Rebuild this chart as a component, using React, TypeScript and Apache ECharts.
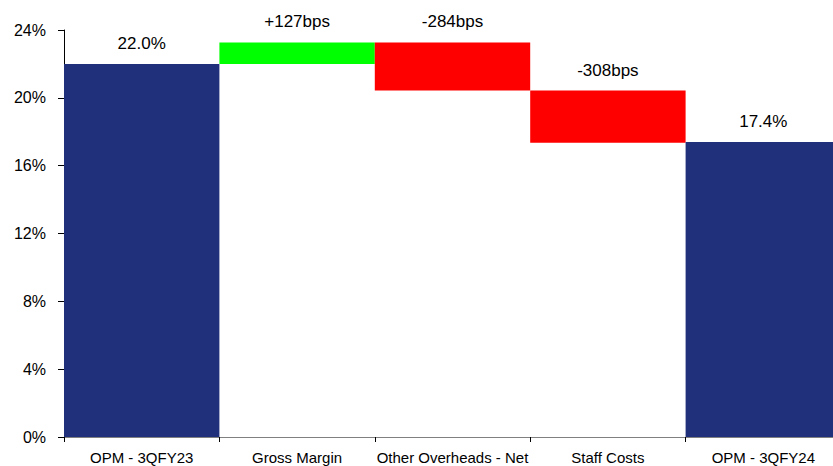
import React, { useEffect, useRef } from "react";
import * as echarts from "echarts";

const categories = ["OPM - 3QFY23", "Gross Margin", "Other Overheads - Net", "Staff Costs", "OPM - 3QFY24"];
const startValue = 22.0;
const changesBps = [127, -284, -308];
const endValue = 17.4;
const yTicks = [0, 4, 8, 12, 16, 20, 24];

const NAVY = "#21307A";
const GREEN = "#00FF00";
const RED = "#FF0000";
const FONT = "'Liberation Sans', Arial, sans-serif";

export default function App() {
  const ref = useRef<HTMLDivElement>(null);
  useEffect(() => {
    if (!ref.current) return;
    const chart = echarts.init(ref.current, undefined, { renderer: "svg" });

    const base: number[] = [0];
    const vis: any[] = [];
    vis.push({ value: startValue, itemStyle: { color: NAVY }, label: { formatter: startValue.toFixed(1) + "%" } });
    let running = startValue;
    changesBps.forEach((bps) => {
      const d = bps / 100;
      const lo = Math.min(running, running + d);
      base.push(lo);
      vis.push({
        value: Math.abs(d),
        itemStyle: { color: d >= 0 ? GREEN : RED },
        label: { formatter: (bps >= 0 ? "+" : "") + bps + "bps" },
      });
      running += d;
    });
    base.push(0);
    vis.push({ value: endValue, itemStyle: { color: NAVY }, label: { formatter: endValue.toFixed(1) + "%" } });

    chart.setOption({
      animation: false,
      grid: { left: 64, top: 30, bottom: 29, width: 777, containLabel: false, outerBoundsMode: "none" },
      xAxis: {
        type: "category",
        data: categories,
        axisLine: { show: true, lineStyle: { color: "#808080", width: 1 } },
        axisTick: { show: true, length: 5, lineStyle: { color: "#000" } },
        axisLabel: { color: "#000", fontFamily: FONT, fontSize: 15, margin: 13, interval: 0 },
        splitLine: { show: false },
      },
      yAxis: {
        type: "value",
        min: yTicks[0],
        max: yTicks[yTicks.length - 1],
        interval: 4,
        axisLine: { show: true, lineStyle: { color: "#000", width: 1 } },
        axisTick: { show: true, length: 6, lineStyle: { color: "#000" } },
        axisLabel: { color: "#000", fontFamily: FONT, fontSize: 16, margin: 18, formatter: "{value}%" },
        splitLine: { show: false },
      },
      series: [
        {
          type: "bar",
          stack: "w",
          data: base,
          itemStyle: { color: "transparent" },
          barCategoryGap: "0%",
          silent: true,
        },
        {
          type: "bar",
          stack: "w",
          data: vis,
          barCategoryGap: "0%",
          label: { show: true, position: "top", distance: 12, color: "#000", fontFamily: FONT, fontSize: 17 },
        },
      ],
    });
    return () => chart.dispose();
  }, []);
  return <div ref={ref} style={{ width: 833, height: 466, position: "fixed", left: 0, top: 0, background: "#fff" }} />;
}
